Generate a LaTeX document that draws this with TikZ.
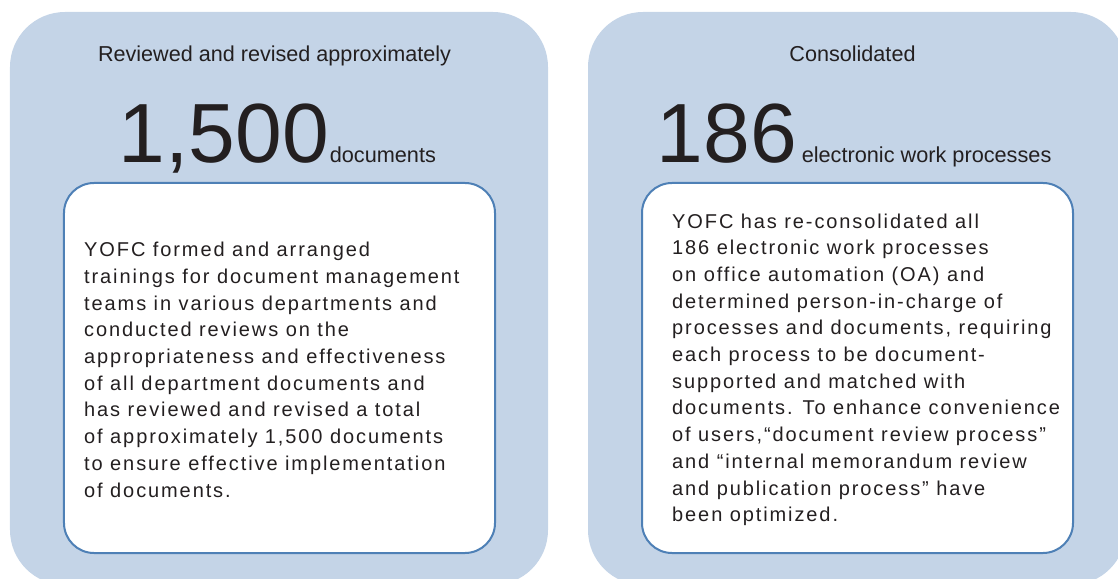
\documentclass[tikz,border=0pt]{standalone}
\usepackage{fontspec}
\setmainfont{Liberation Sans}
\newfontfamily\bodyfont[LetterSpace=9.5]{Liberation Sans}
\usetikzlibrary{positioning}
\definecolor{panelblue}{HTML}{C4D4E7}
\definecolor{boxblue}{HTML}{4E80B6}
\definecolor{inkgray}{HTML}{231F20}
\tikzset{
  panel/.style={
    rectangle,
    fill=panelblue,
    rounded corners=55bp,
    minimum width=538bp,
    minimum height=573bp
  },
  textbox/.style={
    rectangle,
    draw=boxblue,
    line width=2bp,
    fill=white,
    rounded corners=30bp,
    minimum width=431bp,
    minimum height=370bp
  }
}
\begin{document}
\begin{tikzpicture}[x=1bp, y=-1bp,
  heading/.style={inner sep=0pt, text=inkgray, font=\fontsize{21.6bp}{26bp}\selectfont, anchor=base},
  bignum/.style={inner sep=0pt, text=inkgray, font=\fontsize{84bp}{90bp}\selectfont, anchor=base west},
  unit/.style={inner sep=0pt, text=inkgray, font=\fontsize{21.7bp}{26bp}\selectfont},
  body/.style={inner sep=0pt, text=inkgray, align=left, anchor=north west, font=\bodyfont\fontsize{20bp}{26.7bp}\selectfont}
]
  \clip (0,0) rectangle (1118,579);

  % Panels
  \node[panel] (leftpanel) at (279,298.5) {};
  \node[panel] (rightpanel) at (857,298.5) {};

  % Text boxes
  \node[textbox] (leftbox) at (279.5,368) {};
  \node[textbox] (rightbox) at (857.5,368) {};

  % Headings
  \node[heading] (lefttitle) at (274.5,62) {Reviewed and revised approximately};
  \node[heading] (righttitle) at (852.5,62) {Consolidated};

  % Figures
  \node[bignum] (leftnum) at (118.5,163) {1,500};
  \node[unit, base right=0.5bp of leftnum] (leftunit) {documents};
  \node[bignum] (rightnum) at (656.5,163) {186};
  \node[unit, base right=4.5bp of rightnum] (rightunit) {electronic work processes};

  % Body text
  \node[body] (lefttext) at (84,242.1) {YOFC formed and arranged\\trainings for document management\\teams in various departments and\\conducted reviews on the\\appropriateness and effectiveness\\of all department documents and\\has reviewed and revised a total\\of approximately 1,500 documents\\to ensure effective implementation\\of documents.};
  \node[body] (righttext) at (672,213.4) {YOFC has re-consolidated all\\186 electronic work processes\\on office automation (OA) and\\determined person-in-charge of\\processes and documents, requiring\\each process to be document-\\supported and matched with\\documents. To enhance convenience\\of users,“document review process”\\and “internal memorandum review\\and publication process” have\\been optimized.};
\end{tikzpicture}
\end{document}
